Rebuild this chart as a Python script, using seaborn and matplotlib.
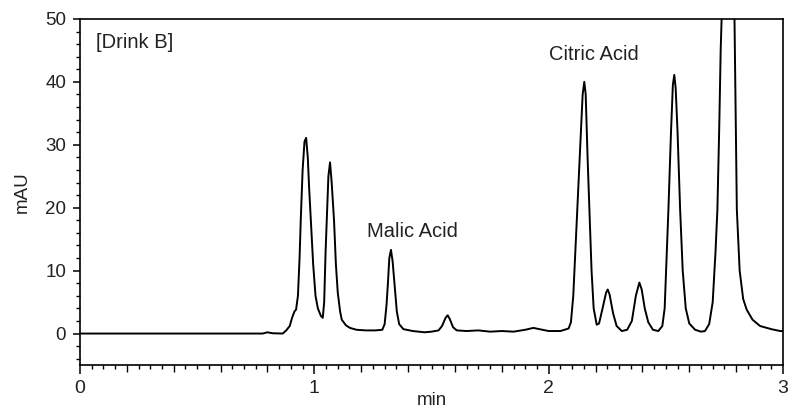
import numpy as np
import pandas as pd
import matplotlib
matplotlib.use('Agg')
import matplotlib.pyplot as plt
from matplotlib.ticker import MultipleLocator, FixedLocator
import seaborn as sns

# chromatogram trace (time in min, signal in mAU)
time_min = [0.00, 0.78, 0.80, 0.82, 0.865, 0.88, 0.895, 0.905, 0.915, 0.922,
            0.930, 0.937, 0.942, 0.950, 0.958, 0.965, 0.972, 0.978, 0.985, 0.995,
            1.005, 1.015, 1.028, 1.036, 1.042, 1.048, 1.053, 1.060, 1.067, 1.074,
            1.084, 1.092, 1.100, 1.110, 1.117, 1.135, 1.152, 1.18, 1.22, 1.26,
            1.29, 1.300, 1.308, 1.314, 1.320, 1.327, 1.334, 1.344, 1.352, 1.362,
            1.38, 1.42, 1.47, 1.50, 1.53, 1.545, 1.560, 1.569, 1.578, 1.592,
            1.608, 1.65, 1.70, 1.75, 1.80, 1.85, 1.90, 1.935, 1.96, 2.00,
            2.05, 2.085, 2.095, 2.105, 2.115, 2.122, 2.135, 2.145, 2.152, 2.158,
            2.166, 2.174, 2.183, 2.192, 2.205, 2.215, 2.230, 2.245, 2.252, 2.260,
            2.275, 2.290, 2.312, 2.335, 2.355, 2.372, 2.387, 2.397, 2.410, 2.425,
            2.445, 2.468, 2.485, 2.495, 2.503, 2.511, 2.522, 2.530, 2.536, 2.542,
            2.550, 2.561, 2.572, 2.585, 2.600, 2.625, 2.650, 2.667, 2.685, 2.700,
            2.712, 2.720, 2.728, 2.734, 2.738, 2.750, 2.765, 2.780, 2.793, 2.798,
            2.803, 2.815, 2.830, 2.845, 2.870, 2.902, 2.95, 2.988, 3.00]
signal_mau = [0.0, 0.0, 0.2, 0.05, 0.0, 0.5, 1.2, 2.5, 3.5, 3.8,
              6.0, 12.0, 18.0, 26.0, 30.5, 31.1, 28.0, 23.0, 18.0, 11.0,
              6.0, 4.0, 2.8, 2.5, 5.0, 13.0, 18.0, 25.0, 27.2, 24.0,
              18.0, 11.0, 6.5, 3.5, 2.2, 1.3, 0.9, 0.6, 0.5, 0.5,
              0.6, 1.5, 4.5, 8.0, 12.0, 13.3, 11.5, 7.0, 3.5, 1.5,
              0.7, 0.4, 0.2, 0.3, 0.5, 1.2, 2.5, 2.9, 2.3, 1.0,
              0.5, 0.4, 0.5, 0.3, 0.4, 0.3, 0.6, 0.9, 0.7, 0.4,
              0.4, 0.8, 1.8, 6.0, 14.0, 19.7, 30.0, 38.0, 40.0, 38.0,
              28.0, 19.7, 10.0, 4.0, 1.4, 1.6, 4.0, 6.5, 7.0, 6.2,
              3.2, 1.2, 0.4, 0.6, 2.0, 6.0, 8.1, 7.0, 4.0, 1.8,
              0.6, 0.4, 1.2, 4.0, 12.0, 19.7, 32.0, 39.5, 41.1, 39.0,
              32.0, 19.7, 10.0, 4.0, 1.6, 0.6, 0.3, 0.4, 1.5, 5.0,
              13.0, 19.7, 33.0, 45.0, 50.0, 75.0, 95.0, 75.0, 50.0, 35.0,
              19.7, 10.0, 5.5, 3.8, 2.2, 1.2, 0.7, 0.4, 0.4]

labels = ['[Drink B]', 'Malic Acid', 'Citric Acid']
label_x = [0.07, 1.225, 2.0]
label_y = [46.3, 16.2, 44.4]

sns.set_style('ticks')
plt.rcParams['font.family'] = ['Liberation Sans', 'DejaVu Sans']

df = pd.DataFrame({'min': time_min, 'mAU': signal_mau})

fig = plt.figure(figsize=(7.89, 4.13), dpi=100)
ax = fig.add_axes([0.1014, 0.1162, 0.891, 0.838])
sns.lineplot(data=df, x='min', y='mAU', ax=ax, sort=False, estimator=None,
             color='black', linewidth=1.4)

ax.set_xlim(0, 3)
ax.set_ylim(-5, 50)
ax.xaxis.set_major_locator(MultipleLocator(1))
ax.xaxis.set_minor_locator(FixedLocator([v / 20 for v in range(61) if v % 20 != 0]))
ax.yaxis.set_major_locator(MultipleLocator(10))
ax.yaxis.set_minor_locator(MultipleLocator(2))

ax.tick_params(axis='both', which='major', direction='out', width=1.1, color='black',
               labelcolor='#222222', pad=5)
ax.tick_params(axis='x', which='major', length=6.5, labelsize=14, pad=4)
ax.tick_params(axis='y', which='major', length=5, labelsize=13.5)
ax.tick_params(axis='both', which='minor', direction='out', width=1.0, length=3, color='black')

# every 0.2 min tick is a little longer
fig.canvas.draw()
for t in ax.xaxis.get_minor_ticks():
    pos = t.get_loc()
    if abs(pos * 5 - round(pos * 5)) < 1e-6:
        t.tick1line.set_markersize(4.8)

for side in ['top', 'right', 'left', 'bottom']:
    ax.spines[side].set_visible(True)
    ax.spines[side].set_linewidth(1.2)
    ax.spines[side].set_color('black')

ax.set_xlabel('min', fontsize=13.5, color='#222222', labelpad=-3)
ax.set_ylabel('mAU', fontsize=13.5, color='#222222', labelpad=10)

for txt, tx, ty in zip(labels, label_x, label_y):
    ax.text(tx, ty, txt, fontsize=14.5, color='#222222', va='center', ha='left')

fig.savefig('out.png', dpi=100, facecolor='white')
